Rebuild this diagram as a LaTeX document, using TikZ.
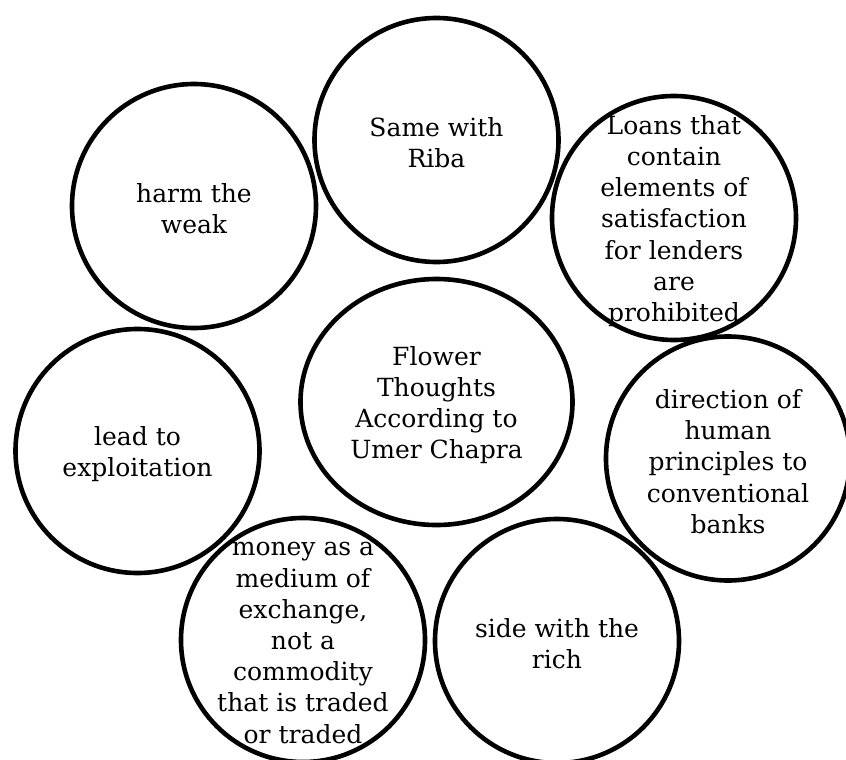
\documentclass[tikz,border=0pt]{standalone}
\usepackage{fontspec}
\setmainfont{DejaVu Serif}
\usepackage{tikz}
\usetikzlibrary{shapes.geometric}

\tikzset{
  bubble/.style={circle, draw, line width=2.3pt, minimum size=122pt, inner sep=0pt},
  hub/.style={ellipse, draw, line width=2.3pt, minimum width=136pt, minimum height=123pt, inner sep=0pt},
  txt/.style={align=center, inner sep=0pt, yshift=-1.5pt, font=\fontsize{12.5pt}{15.6pt}\selectfont}
}

\begin{document}
\begin{tikzpicture}[x=0.5pt, y=-0.5pt]
    \useasboundingbox (0,0) rectangle (846,760);
    \node[hub]    (flower)  at (436.5,402) {};
    \node[bubble] (weak)    at (194,206)   {};
    \node[bubble] (riba)    at (436.5,140) {};
    \node[bubble] (loans)   at (674,218)   {};
    \node[bubble] (exploit) at (137.5,451) {};
    \node[bubble] (human)   at (728,458.5) {};
    \node[bubble] (money)   at (303,640)   {};
    \node[bubble] (rich)    at (557,641)   {};
    % texts
    \node[txt] (flowertxt)  at (flower)  {Flower\\Thoughts\\According to\\Umer Chapra};
    \node[txt] (weaktxt)    at (weak)    {harm the\\weak};
    \node[txt] (ribatxt)    at (riba)    {Same with\\Riba};
    \node[txt] (loanstxt)   at (loans)   {Loans that\\contain\\elements of\\satisfaction\\for lenders\\are\\prohibited};
    \node[txt] (exploittxt) at (exploit) {lead to\\exploitation};
    \node[txt] (humantxt)   at (human)   {direction of\\human\\principles to\\conventional\\banks};
    \node[txt] (moneytxt)   at (money)   {money as a\\medium of\\exchange,\\not a\\commodity\\that is traded\\or traded};
    \node[txt] (richtxt)    at (rich)    {side with the\\rich};
\end{tikzpicture}
\end{document}
